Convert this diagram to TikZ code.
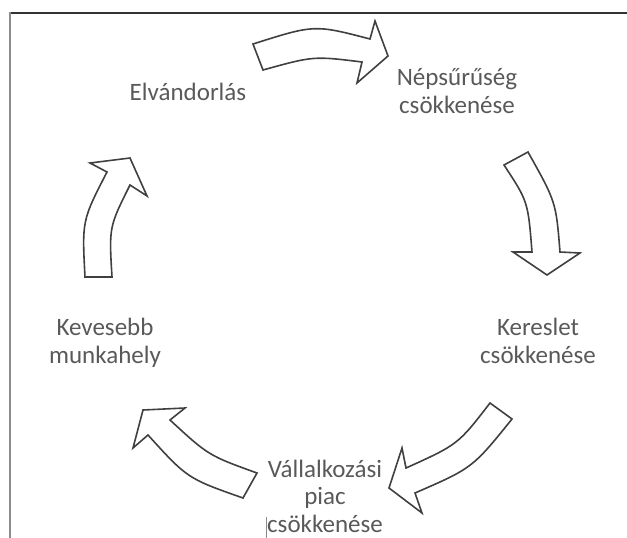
\documentclass[tikz,border=0pt]{standalone}
\usepackage{fontspec}
\setmainfont{Carlito}
\definecolor{txtgray}{HTML}{595959}
\definecolor{arrowgray}{HTML}{404040}
\definecolor{framedark}{HTML}{333333}
\definecolor{framegray}{HTML}{8C8C8C}
\begin{document}
\begin{tikzpicture}[x=1pt,y=-1pt,
  label/.style={text=txtgray, font=\fontsize{25}{27.5}\selectfont, align=center, inner sep=0pt},
  blockarrow/.style={draw=arrowgray, fill=white, line width=1.6pt, line join=miter}]
\useasboundingbox (0,0) rectangle (627,538);
% frame
\draw[framedark, line width=1.2pt] (9,13) -- (627,13);
\draw[framegray, line width=2pt] (9.5,12.4) -- (9.5,538);
\draw[framegray, line width=0.8pt] (266,517) -- (266,538);
% texts
\node[label] (elv) at (188,92) {Elvándorlás};
\node[label] (nep) at (457,91) {Népsűrűség\\csökkenése};
\node[label] (ker) at (538,341) {Kereslet\\csökkenése};
\node[label] (val) at (325,496) {Vállalkozási\\piac\\csökkenése};
\node[label] (kev) at (105,343) {Kevesebb\\munkahely};
% arrow 1 (top, to the right)
\draw[blockarrow] (253,44) .. controls (314.5,24.5) .. (370,39) -- (375,21) -- (388,56) -- (357,83) -- (362,62)
  .. controls (313.5,56) .. (263,70) -- cycle;
% arrow 2 (right, downwards)
\draw[blockarrow] (504,165) -- (528,152) .. controls (556,202) .. (560,252) -- (580,253) -- (547,275) -- (513,252) -- (532,252)
  .. controls (528,201.5) .. cycle;
% arrow 3 (bottom right, down-left)
\draw[blockarrow] (490,403) -- (512,419) .. controls (472.5,468) .. (415,493) -- (422,513) -- (389,488) -- (402,448) -- (406,468)
  .. controls (458,444.5) .. cycle;
% arrow 4 (bottom left, up-left)
\draw[blockarrow] (257,473) .. controls (208.5,455.5) .. (170,420) -- (185,408) -- (143,410) -- (133,448) -- (148,435)
  .. controls (187.5,478.5) .. (243,498) -- cycle;
% arrow 5 (left, upwards)
\draw[blockarrow] (85,277) .. controls (82,220.5) .. (107,172) -- (90,163) -- (130,158) -- (147,196) -- (130,185)
  .. controls (109,227) .. (112,277) -- cycle;
\end{tikzpicture}
\end{document}
